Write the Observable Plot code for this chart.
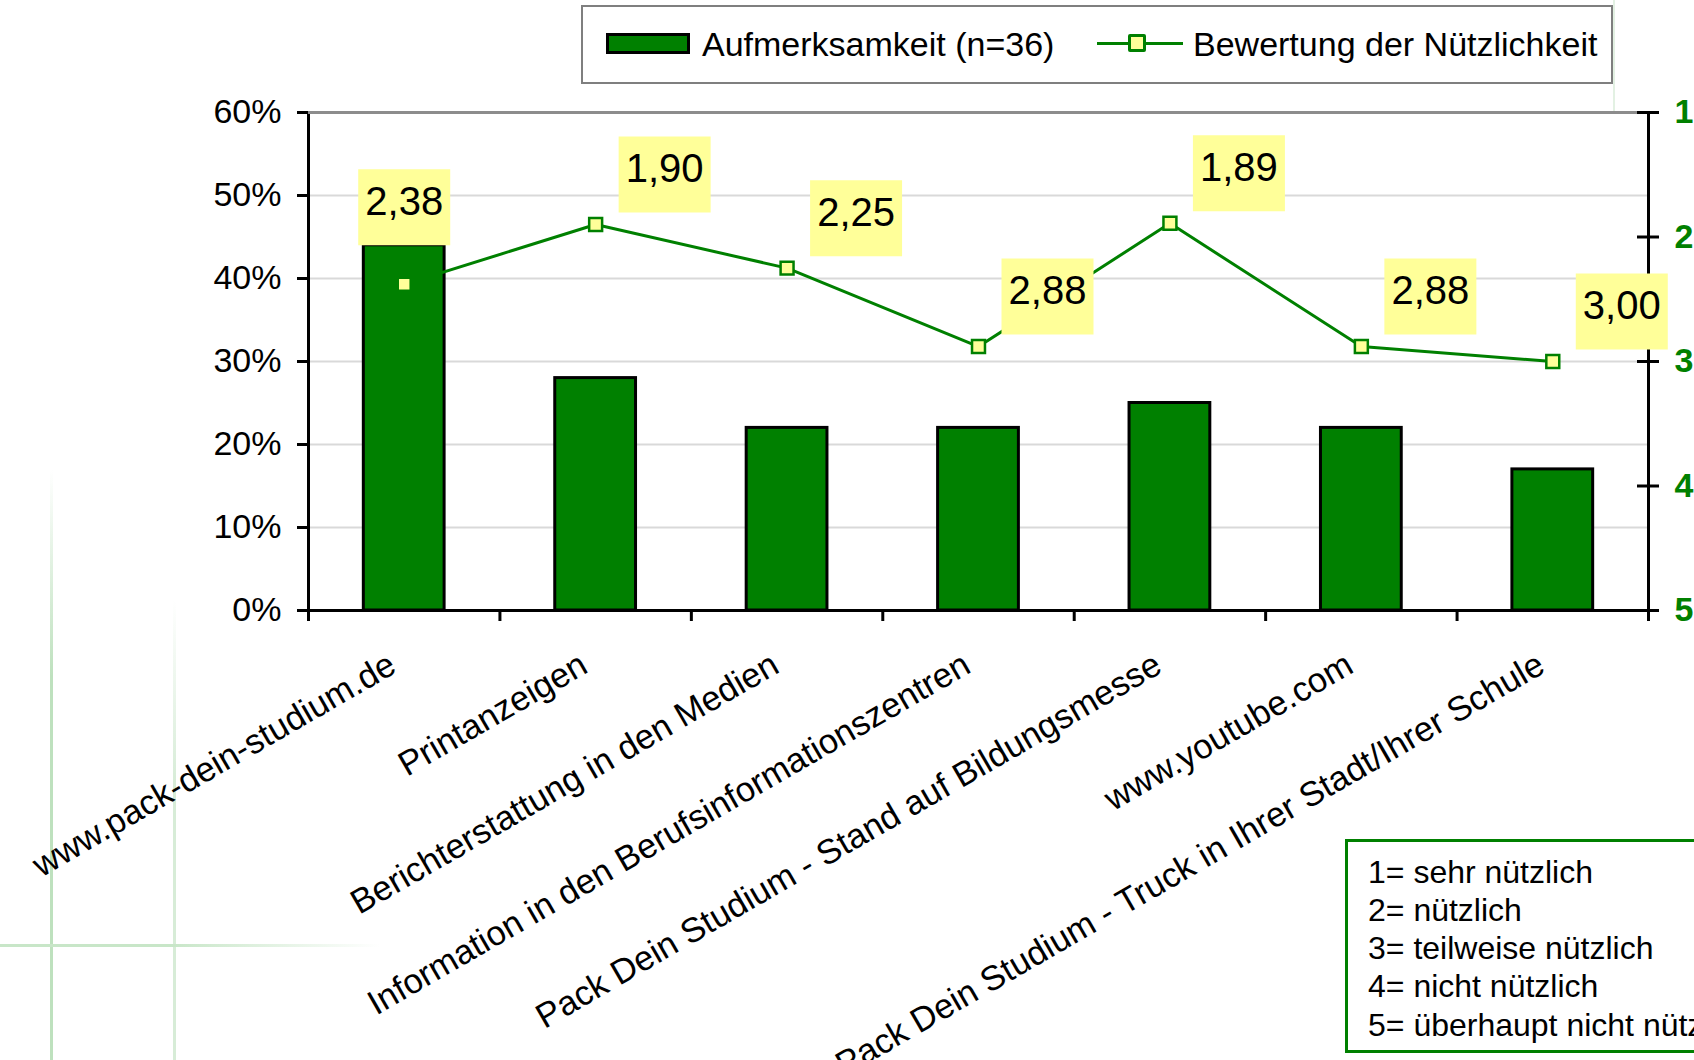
<!DOCTYPE html>
<html>
<head>
<meta charset="utf-8">
<script src="https://cdn.jsdelivr.net/npm/d3@7"></script>
<script src="https://cdn.jsdelivr.net/npm/@observablehq/plot@0.6"></script>
<style>
  html, body { margin: 0; padding: 0; background: #fff; }
  #wrap { position: relative; width: 1694px; height: 1060px; overflow: hidden;
          font-family: "Liberation Sans", Arial, sans-serif; color: #000; }
  .deco { position: absolute; }
  #chart { position: absolute; left: 0; top: 0; z-index: 1; }
  .abs { position: absolute; z-index: 2; }
  #legend { left: 581px; top: 5px; width: 1032px; height: 79px; border: 2px solid #7f7f7f;
            box-sizing: border-box; background: #fff; }
  .legtext { font-size: 34px; line-height: 40px; top: 24px; white-space: nowrap; }
  #note { left: 1345px; top: 839px; width: 420px; height: 214px; box-sizing: border-box;
          border: 3px solid #008000; background: #fff; padding: 10.5px 0 0 20px;
          font-size: 32px; line-height: 38.3px; white-space: nowrap; }
</style>
</head>
<body>
<div id="wrap">
  <div class="deco" style="left:50px;top:470px;width:3px;height:590px;background:linear-gradient(to bottom, rgba(190,225,190,0), rgba(190,225,190,1) 35%, rgba(190,225,190,1));"></div>
  <div class="deco" style="left:173px;top:600px;width:3px;height:460px;background:linear-gradient(to bottom, rgba(215,236,215,0), rgba(215,236,215,1) 40%, rgba(215,236,215,1));"></div>
  <div class="deco" style="left:0px;top:944px;width:380px;height:3px;background:linear-gradient(to right, rgba(200,230,200,1), rgba(200,230,200,1) 45%, rgba(200,230,200,0));"></div>
  <div class="deco" style="left:1613px;top:0px;width:2px;height:112px;background:#e3f1e3;"></div>
  <div id="chart"></div>
  <div id="legend" class="abs"></div>
  <div class="abs" style="left:606px;top:33px;width:84px;height:21px;box-sizing:border-box;border:3px solid #000;background:#008000;"></div>
  <div class="abs legtext" style="left:702px;">Aufmerksamkeit (n=36)</div>
  <div class="abs" style="left:1097px;top:42px;width:86px;height:3px;background:#008000;"></div>
  <div class="abs" style="left:1128px;top:34px;width:18px;height:18px;box-sizing:border-box;border:3px solid #008000;border-radius:2px;background:#ffff99;"></div>
  <div class="abs legtext" style="left:1193px;">Bewertung der Nützlichkeit</div>
  <div id="note" class="abs"></div>
</div>
<script>
// ---- data ----
const categories = [
  "www.pack-dein-studium.de",
  "Printanzeigen",
  "Berichterstattung in den Medien",
  "Information in den Berufsinformationszentren",
  "Pack Dein Studium - Stand auf Bildungsmesse",
  "www.youtube.com",
  "Pack Dein Studium - Truck in Ihrer Stadt/Ihrer Schule"
];
const attention = [44, 28, 22, 22, 25, 22, 17];          // Aufmerksamkeit (n=36), %
const usefulness = [2.38, 1.90, 2.25, 2.88, 1.89, 2.88, 3.00]; // Bewertung der Nützlichkeit
const percentTicks = [0, 10, 20, 30, 40, 50, 60];
const ratingTicks = [1, 2, 3, 4, 5];
const scaleNotes = [
  "1= sehr nützlich",
  "2= nützlich",
  "3= teilweise nützlich",
  "4= nicht nützlich",
  "5= überhaupt nicht nützlich"
];

// ---- build ----
const rows = categories.map((c, i) => ({c, i, a: attention[i], u: usefulness[i]}));
const rating = d3.scaleLinear([5, 1], [0, 60]); // secondary axis mapped onto primary
const fmt = v => v.toFixed(2).replace(".", ",");
const boxSymbol = {draw(ctx) { ctx.rect(-46, -38, 92, 76); }};
const cx = d => d.i + 0.5;
const ry = d => rating(d.u);
const GREEN = "#008000", YELLOW = "#ffff99";

document.getElementById("note").innerHTML = scaleNotes.map(s => `<div>${s}</div>`).join("");

const chart = Plot.plot({
  width: 1694, height: 1060,
  marginLeft: 308, marginRight: 46, marginTop: 112, marginBottom: 450,
  style: {fontFamily: '"Liberation Sans", Arial, sans-serif', background: "transparent", overflow: "visible"},
  x: {type: "linear", domain: [0, 7], axis: null},
  y: {domain: [0, 60], axis: null},
  marks: [
    Plot.ruleY(percentTicks.filter(t => t > 0 && t < 60), {stroke: "#d9d9d9", strokeWidth: 2}),
    Plot.rectY(rows, {x1: d => d.i + 0.289, x2: d => d.i + 0.711, y1: 0, y2: "a",
                      fill: GREEN, stroke: "#000", strokeWidth: 3}),
    Plot.frame({stroke: "#000", strokeWidth: 3}),
    Plot.ruleY([60], {stroke: "#8c8c8c", strokeWidth: 3}),
    Plot.ruleY(percentTicks, {x1: 0, x2: 0, insetLeft: -11, stroke: "#000", strokeWidth: 3}),
    Plot.ruleY(ratingTicks.map(t => rating(t)), {x1: 7, x2: 7, insetLeft: -11, insetRight: -11, stroke: "#000", strokeWidth: 3}),
    Plot.ruleX(d3.range(8), {y1: 0, y2: 0, insetBottom: -11, stroke: "#000", strokeWidth: 3}),
    Plot.text(percentTicks, {x: 0, y: d => d, text: d => d + "%", textAnchor: "end", dx: -27,
                             fontSize: 34, fill: "#000"}),
    Plot.text(ratingTicks, {x: 7, y: d => rating(d), text: d => String(d), textAnchor: "start", dx: 26,
                            fontSize: 34, fontWeight: "bold", fill: GREEN}),
    Plot.text(rows, {x: cx, y: 0, text: "c", rotate: -30, textAnchor: "end", lineAnchor: "bottom",
                     dx: -6, dy: 61, fontSize: 34.5, fill: "#000"}),
    Plot.line(rows, {x: cx, y: ry, stroke: GREEN, strokeWidth: 3}),
    Plot.dot(rows, {x: cx, y: ry, symbol: "square", r: 7.3, fill: YELLOW, stroke: GREEN, strokeWidth: 2.5}),
    // data labels: first sits on top of its bar, the others up-right of the point
    Plot.dot(rows.slice(0, 1), {x: cx, y: "a", dy: -38, symbol: boxSymbol, fill: YELLOW, stroke: "none"}),
    Plot.text(rows.slice(0, 1), {x: cx, y: "a", dy: -43, text: d => fmt(d.u), fontSize: 40, fill: "#000"}),
    Plot.dot(rows.slice(1), {x: cx, y: ry, dx: 69, dy: -50, symbol: boxSymbol, fill: YELLOW, stroke: "none"}),
    Plot.text(rows.slice(1), {x: cx, y: ry, dx: 69, dy: -55, text: d => fmt(d.u), fontSize: 40, fill: "#000"})
  ]
});
document.getElementById("chart").appendChild(chart);
</script>
</body>
</html>
